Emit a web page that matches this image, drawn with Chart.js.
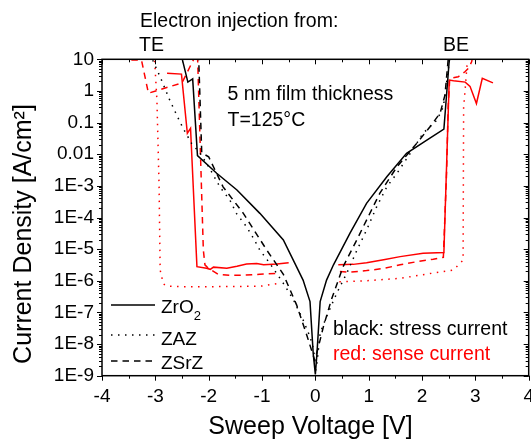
<!DOCTYPE html>
<html>
<head>
<meta charset="UTF-8">
<script src="https://cdn.jsdelivr.net/npm/chart.js"></script>
<title>Sweep J-V</title>
<style>
  html, body { margin: 0; padding: 0; background: #fff; }
</style>
</head>
<body>
<canvas id="grafico" width="531" height="443"></canvas>
<script>
  // ZrO2 (linha cheia)
  var zro2StressV = [-2.52, -2.39, -2.30, -2.21, -1.85, -1.47, -1.04, -0.60, -0.37, -0.23, -0.10, -0.04, 0.0, 0.03, 0.09, 0.21, 0.34, 0.65, 0.96, 1.34, 1.71, 2.09, 2.41, 2.52];
  var zro2StressJ = [15, 1.9, 2.4, 0.009, 2.5e-3, 7.4e-4, 1.35e-4, 1.95e-5, 3.2e-6, 1.05e-6, 2.2e-7, 5e-9, 1.1e-9, 5e-9, 2.2e-7, 1.05e-6, 3.2e-6, 3.2e-5, 2.8e-4, 1.95e-3, 0.0107, 0.028, 0.062, 15];
  var zro2SenseV = [-2.78, -2.51, -2.40, -2.34, -2.22, -2.04, -1.97, -1.91, -1.66, -1.47, -1.29, -1.10, -0.97, -0.72, -0.50, 0,
    0.43, 0.71, 0.96, 1.28, 1.59, 2.02, 2.41, 2.51, 2.59, 2.81, 2.90, 3.02, 3.13, 3.33];
  var zro2SenseJ = [3.6, 3.4, 0.046, 0.066, 2.8e-6, 2.5e-6, 2.3e-6, 2.7e-6, 2.5e-6, 2.9e-6, 3.4e-6, 3.5e-6, 3.2e-6, 3.4e-6, 3.7e-6, null,
    3.2e-6, 3.3e-6, 3.7e-6, 4.6e-6, 5.8e-6, 7.4e-6, 7.8e-6, 2.2, 2.1, 1.9, 1.4, 0.4, 2.5, 1.8];

  // ZAZ (pontilhada)
  var zazStressV = [-3.10, -3.01, -2.91, -2.73, -2.57, -2.48, -2.32, -2.16, -1.98, -1.79, -1.60, -1.48, -1.29, -1.16, -1.04, -0.85, -0.60, -0.41, -0.23, -0.10, -0.03, 0.0,
    0.03, 0.09, 0.21, 0.40, 0.59, 0.78, 0.96, 1.15, 1.34, 1.53, 1.78, 2.02, 2.28, 2.40, 2.46, 2.49, 2.53];
  var zazStressJ = [15, 6.6, 2.8, 0.51, 0.136, 0.066, 0.022, 0.0107, 3.5e-3, 9.3e-4, 3.5e-4, 1.35e-4, 5.1e-5, 2.2e-5, 9.3e-6, 3.5e-6, 8.3e-7, 2.5e-7, 5.8e-8, 1.7e-8, 6.5e-9, 1.3e-9,
    2.5e-9, 2.2e-8, 7.4e-8, 4e-7, 1.75e-6, 9.3e-6, 4e-5, 2.2e-4, 9.3e-4, 2.5e-3, 0.0107, 0.046, 0.12, 0.32, 1.74, 4.6, 15];
  var zazSenseV = [-3.02, -2.97, -2.93, -2.91, -2.85, -2.79, -2.50, -2.00, -1.50, -1.00, -0.69, 0,
    0.45, 0.96, 1.59, 2.21, 2.59, 2.77, 2.78, 2.81, 2.86];
  var zazSenseJ = [15, 0.5, 1e-3, 2.2e-6, 8e-7, 6.8e-7, 6.5e-7, 6.5e-7, 6.6e-7, 6.8e-7, 8.3e-7, null,
    9.3e-7, 1e-6, 1.2e-6, 1.75e-6, 2.2e-6, 4.5e-6, 0.3, 1.2, 15];

  // ZSrZ (tracejada)
  var zsrzStressV = [-2.19, -2.13, -2.00, -1.73, -1.35, -0.91, -0.60, -0.35, -0.16, -0.01, 0.09, 0.15, 0.30, 0.52, 0.78, 0.96, 1.21, 1.53, 1.90, 2.15, 2.34, 2.43, 2.50];
  var zsrzStressJ = [15, 0.011, 8.3e-3, 9.3e-4, 1.35e-4, 9.3e-6, 1.6e-6, 1.7e-7, 1.9e-8, 3e-9, 1.35e-8, 3.5e-8, 2.5e-7, 2.8e-6, 2e-5, 8.3e-5, 5.9e-4, 4e-3, 0.022, 0.074, 0.2, 0.74, 15];
  var zsrzSenseV = [-3.45, -3.26, -3.13, -2.50, -2.23, -2.21, -2.10, -2.07, -2.01, -1.82, -1.60, -1.35, -1.04, -0.66, 0,
    0.46, 0.65, 0.96, 1.28, 1.59, 1.90, 2.21, 2.40, 2.46, 2.49, 2.52, 2.68, 2.81, 2.87, 2.93, 2.96];
  var zsrzSenseJ = [9.5, 9.5, 0.85, 1.8, 15, 15, 9.3e-6, 3.2e-6, 2.5e-6, 1.6e-6, 1.5e-6, 1.5e-6, 1.6e-6, 1.75e-6, null,
    1.95e-6, 1.86e-6, 2.1e-6, 2.45e-6, 3.2e-6, 4e-6, 4.8e-6, 5.5e-6, 2.5e-3, 0.32, 2.5, 2.8, 4.1, 5.2, 8.3, 15];

  // eixos
  var xTickValues = [-4, -3, -2, -1, 0, 1, 2, 3, 4];
  var xTickLabels = ['-4', '-3', '-2', '-1', '0', '1', '2', '3', '4'];
  var yTickValues = [1e-9, 1e-8, 1e-7, 1e-6, 1e-5, 1e-4, 1e-3, 0.01, 0.1, 1, 10];
  var yTickLabels = ['1E-9', '1E-8', '1E-7', '1E-6', '1E-5', '1E-4', '1E-3', '0.01', '0.1', '1', '10'];

  var FONTE = '"Liberation Sans", Arial, sans-serif';
  var PRETO = '#000000';
  var VERMELHO = '#ff0000';
  var PONTILHADO = [1.5, 5.5];
  var TRACEJADO = [6.5, 5];

  function pontos(v, j) {
    return v.map(function (x, i) { return { x: x, y: j[i] }; });
  }

  function serie(nome, v, j, cor, traco) {
    return {
      label: nome,
      data: pontos(v, j),
      borderColor: cor,
      borderWidth: 1.5,
      borderDash: traco,
      pointRadius: 0,
      spanGaps: false,
      clip: 0
    };
  }

  // marcas dos eixos, moldura, legenda e textos
  var extras = {
    id: 'extras',
    afterDatasetsDraw: function (chart) {
      var ctx = chart.ctx;
      var a = chart.chartArea;
      var x = chart.scales.x;
      var y = chart.scales.y;
      ctx.save();
      ctx.strokeStyle = PRETO;
      ctx.lineWidth = 1;

      // ticks x (baixo para fora, topo para dentro)
      for (var v = -4; v <= 4.001; v += 0.5) {
        var px = Math.round(x.getPixelForValue(v)) + 0.5;
        var len = Math.abs(v - Math.round(v)) < 0.01 ? 5 : 3;
        ctx.beginPath();
        ctx.moveTo(px, a.bottom); ctx.lineTo(px, a.bottom + len);
        ctx.moveTo(px, a.top); ctx.lineTo(px, a.top + len);
        ctx.stroke();
      }
      // ticks y (esquerda para fora, direita para dentro)
      for (var e = -9; e <= 1; e++) {
        for (var m = 1; m <= 9; m++) {
          var val = m * Math.pow(10, e);
          if (val > 10.001) break;
          var py = Math.round(y.getPixelForValue(val)) + 0.5;
          var l = m === 1 ? 5 : 3;
          ctx.beginPath();
          ctx.moveTo(a.left, py); ctx.lineTo(a.left - l, py);
          ctx.moveTo(a.right, py); ctx.lineTo(a.right - l, py);
          ctx.stroke();
        }
      }
      ctx.lineWidth = 1.5;
      ctx.strokeRect(a.left, a.top, a.right - a.left, a.bottom - a.top);

      // legenda
      var leg = [
        { nome: 'ZrO', sub: '2', traco: [], yl: 305, yt: 313 },
        { nome: 'ZAZ', sub: '', traco: PONTILHADO, yl: 335, yt: 344.5 },
        { nome: 'ZSrZ', sub: '', traco: TRACEJADO, yl: 361, yt: 368.5 }
      ];
      ctx.fillStyle = PRETO;
      leg.forEach(function (it) {
        ctx.setLineDash(it.traco);
        ctx.lineWidth = 1.5;
        ctx.beginPath();
        ctx.moveTo(111, it.yl); ctx.lineTo(155, it.yl);
        ctx.stroke();
        ctx.setLineDash([]);
        ctx.font = '19px ' + FONTE;
        ctx.textAlign = 'left';
        ctx.textBaseline = 'alphabetic';
        ctx.fillText(it.nome, 161, it.yt);
        if (it.sub) {
          var w = ctx.measureText(it.nome).width;
          ctx.font = '13px ' + FONTE;
          ctx.fillText(it.sub, 161 + w, it.yt + 7);
        }
      });

      // anotações
      ctx.font = '19.5px ' + FONTE;
      ctx.fillText('Electron injection from:', 140, 27);
      ctx.fillText('TE', 139, 51);
      ctx.fillText('BE', 443, 51);
      ctx.fillText('5 nm film thickness', 227.5, 99.5);
      ctx.fillText('T=125\u00b0C', 227.5, 126);
      ctx.fillText('black: stress current', 333, 335);
      ctx.fillStyle = VERMELHO;
      ctx.fillText('red: sense current', 333, 360);

      // títulos dos eixos
      ctx.fillStyle = PRETO;
      ctx.font = '25px ' + FONTE;
      ctx.textAlign = 'center';
      ctx.fillText('Sweep Voltage [V]', 310.5, 434);
      ctx.save();
      ctx.translate(31, 234);
      ctx.rotate(-Math.PI / 2);
      ctx.fillText('Current Density [A/cm\u00b2]', 0, 0);
      ctx.restore();
      ctx.restore();
    }
  };

  var grafico = new Chart(document.getElementById('grafico'), {
    type: 'line',
    data: {
      datasets: [
        serie('ZrO2 stress', zro2StressV, zro2StressJ, PRETO, []),
        serie('ZAZ stress', zazStressV, zazStressJ, PRETO, PONTILHADO),
        serie('ZSrZ stress', zsrzStressV, zsrzStressJ, PRETO, TRACEJADO),
        serie('ZrO2 sense', zro2SenseV, zro2SenseJ, VERMELHO, []),
        serie('ZAZ sense', zazSenseV, zazSenseJ, VERMELHO, PONTILHADO),
        serie('ZSrZ sense', zsrzSenseV, zsrzSenseJ, VERMELHO, TRACEJADO)
      ]
    },
    options: {
      responsive: false,
      animation: false,
      devicePixelRatio: 1,
      layout: { padding: { left: 0, right: 2.3, top: 59.3, bottom: 0 } },
      plugins: { legend: { display: false }, tooltip: { enabled: false } },
      elements: { line: { tension: 0 } },
      scales: {
        x: {
          type: 'linear',
          min: -4,
          max: 4,
          grid: { display: false, drawTicks: false },
          border: { display: false },
          afterBuildTicks: function (s) {
            s.ticks = xTickValues.map(function (v) { return { value: v }; });
          },
          ticks: {
            color: PRETO,
            font: { family: FONTE, size: 19 },
            padding: 10,
            maxRotation: 0,
            autoSkip: false,
            callback: function (v, i) { return xTickLabels[i]; }
          },
          afterFit: function (s) {
            s.height = 67.3;
            s.paddingLeft = 0;
            s.paddingRight = 0;
          }
        },
        y: {
          type: 'logarithmic',
          min: 1e-9,
          max: 10,
          grid: { display: false, drawTicks: false },
          border: { display: false },
          afterBuildTicks: function (s) {
            s.ticks = yTickValues.map(function (v) { return { value: v }; });
          },
          ticks: {
            color: PRETO,
            font: { family: FONTE, size: 19 },
            padding: 8,
            autoSkip: false,
            callback: function (v, i) { return yTickLabels[i]; }
          },
          afterFit: function (s) {
            s.width = 102;
            s.paddingTop = 0;
            s.paddingBottom = 0;
          }
        }
      }
    },
    plugins: [extras]
  });
</script>
</body>
</html>
